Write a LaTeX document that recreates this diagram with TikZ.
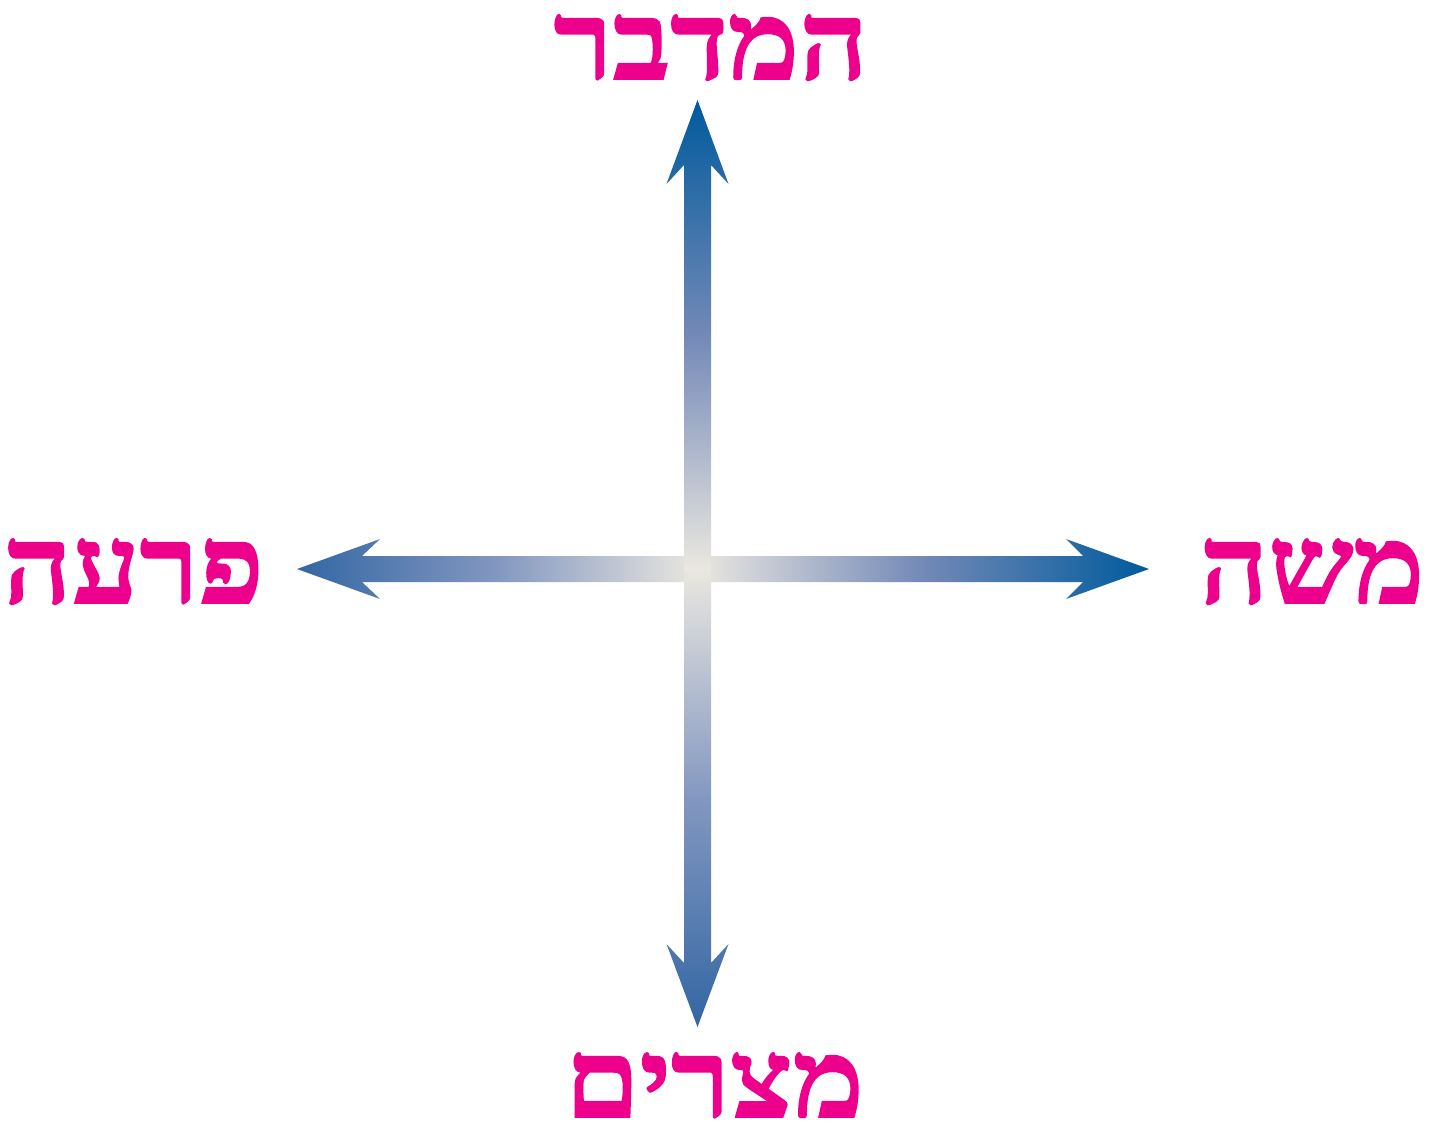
\documentclass[tikz,border=0pt]{standalone}
\usepackage{fontspec}
\usetikzlibrary{calc}
\TeXXeTstate=1
\newfontfamily\hebfont[Script=Hebrew, BoldFeatures={FakeBold=1.6, FakeStretch=1.1}]{Liberation Serif}
\definecolor{tipdark}{HTML}{005A9C}
\definecolor{tiplight}{HTML}{3366A3}
\definecolor{middark}{HTML}{7389B7}
\definecolor{midlight}{HTML}{8297C0}
\definecolor{cream}{HTML}{EAE7E0}
\definecolor{labelpink}{HTML}{EC008C}
% vertical shading: bottom -> top; box of the path spans 25bp..75bp
\pgfdeclareverticalshading{vsh}{100bp}{color(0bp)=(tiplight); color(25bp)=(tiplight); color(37.3bp)=(midlight); color(49.7bp)=(cream); color(62.3bp)=(middark); color(75bp)=(tipdark); color(100bp)=(tipdark)}
% horizontal shading: left -> right
\pgfdeclarehorizontalshading{hsh}{100bp}{color(0bp)=(tiplight); color(25bp)=(tiplight); color(36.7bp)=(midlight); color(48.5bp)=(cream); color(61.7bp)=(middark); color(75bp)=(tipdark); color(100bp)=(tipdark)}
\tikzset{
  lbl/.style={text=labelpink, font=\hebfont\bfseries\fontsize{109}{109}\selectfont, inner sep=0pt, anchor=base, text height=68pt, text depth=0pt},
}
\begin{document}
\begin{tikzpicture}[x=1pt,y=-1pt]
\useasboundingbox (0,0) rectangle (1438,1124);
\coordinate (c) at (697.5,569);
\coordinate (tN) at (697.5,100);
\coordinate (tS) at (697.5,1027);
\coordinate (tW) at (297,569);
\coordinate (tE) at (1149,569);
% horizontal double arrow
\path[shading=hsh] (tW) -- +(83,-30) -- +(65,-13) -- ($(tE)+(-66,-13)$) -- ($(tE)+(-83,-30)$) -- (tE)
   -- +(-83,30) -- +(-66,13) -- ($(tW)+(65,13)$) -- ($(tW)+(83,30)$) -- cycle;
% vertical double arrow
\path[shading=vsh] (tN) -- +(31,84) -- +(13.5,65) -- ($(tS)+(13.5,-64)$) -- ($(tS)+(31,-83)$) -- (tS)
   -- +(-31,-83) -- +(-13.5,-64) -- ($(tN)+(-13.5,65)$) -- ($(tN)+(-31,84)$) -- cycle;
% labels
\node[lbl] (desert) at (711,79) {\beginR המדבר\endR};
\node[lbl] (egypt) at (714.5,1117) {\beginR מצרים\endR};
\node[lbl] (pharaoh) at (133.5,603) {\beginR פרעה\endR};
\node[lbl] (moses) at (1312,603) {\beginR משה\endR};
\end{tikzpicture}
\end{document}
